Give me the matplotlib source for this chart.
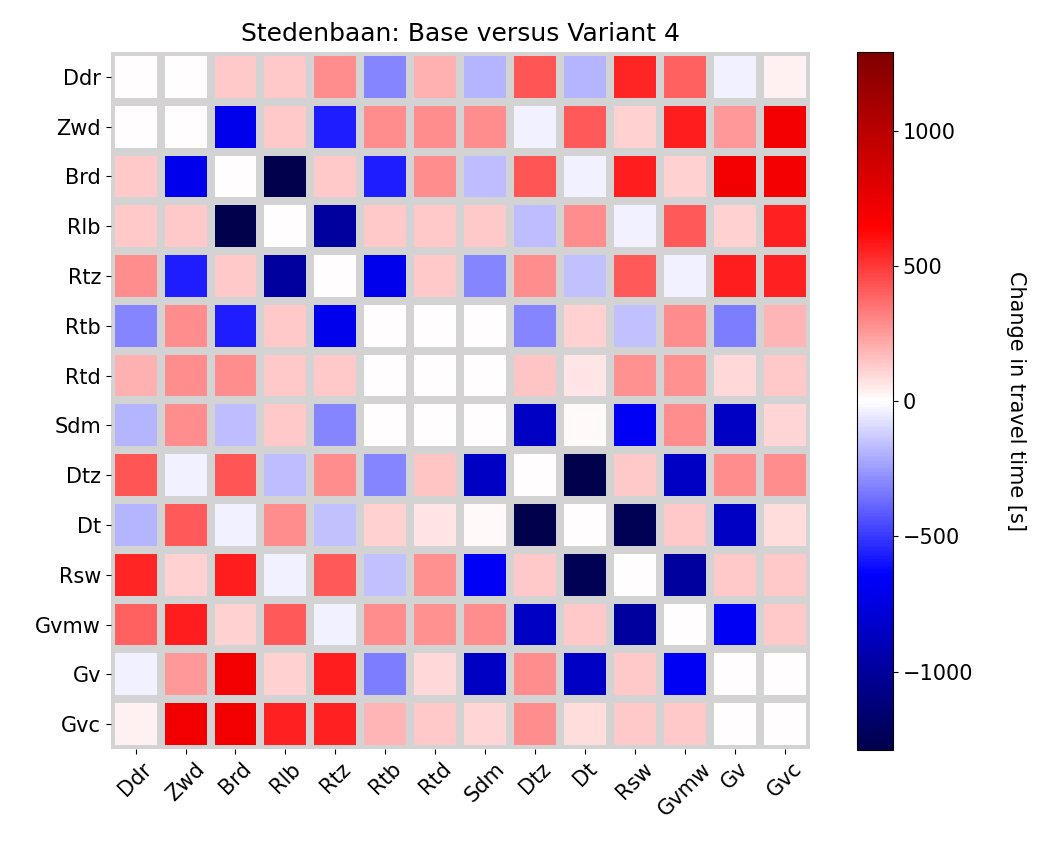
import numpy as np
import matplotlib
matplotlib.use("Agg")
import matplotlib.pyplot as plt

stations = ["Ddr", "Zwd", "Brd", "Rlb", "Rtz", "Rtb", "Rtd",
            "Sdm", "Dtz", "Dt", "Rsw", "Gvmw", "Gv", "Gvc"]

# change in travel time [s], Base versus Variant 4
delta = np.array([
    [5, 5, 140, 140, 283, -303, 200, -190, 433, -190, 548, 395, -31, 31],
    [5, 5, -706, 140, -569, 283, 283, 290, -31, 420, 115, 570, 257, 715],
    [140, -706, 5, -1350, 140, -569, 283, -166, 425, -31, 570, 115, 715, 715],
    [140, 140, -1350, 5, -994, 140, 140, 140, -166, 283, -31, 420, 115, 558],
    [283, -569, 140, -994, 5, -706, 140, -303, 283, -160, 420, -31, 570, 558],
    [-303, 283, -569, 140, -706, 3, 3, 3, -303, 115, -160, 283, -325, 190],
    [200, 283, 283, 140, 140, 3, 3, 3, 150, 65, 273, 273, 100, 140],
    [-190, 290, -166, 140, -303, 3, 3, 3, -853, 20, -680, 283, -853, 110],
    [433, -31, 425, -166, 283, -303, 150, -853, 3, -1320, 140, -853, 283, 283],
    [-190, 420, -31, 283, -160, 115, 65, 20, -1320, 3, -1250, 140, -853, 85],
    [548, 115, 570, -31, 420, -160, 273, -680, 140, -1250, 3, -994, 140, 140],
    [395, 570, 115, 420, -31, 283, 273, 283, -853, 140, -994, 3, -680, 140],
    [-31, 257, 715, 115, 570, -325, 100, -853, 283, -853, 140, -680, 3, 3],
    [31, 715, 715, 558, 558, 190, 140, 110, 283, 85, 140, 140, 3, 3],
])

vmax = 1290

fig = plt.figure(figsize=(10.41, 8.42), dpi=100)
ax = fig.add_axes([0.1063, 0.1105, 0.6715, 0.8277])
cax = fig.add_axes([0.8232, 0.1093, 0.0346, 0.8286])

mesh = ax.pcolormesh(delta, cmap="seismic", vmin=-vmax, vmax=vmax,
                     edgecolors="lightgray", linewidth=4.4)
ax.set_xlim(0, len(stations))
ax.set_ylim(len(stations), 0)
for s in ax.spines.values():
    s.set_visible(False)

ax.set_xticks(np.arange(len(stations)) + 0.5)
ax.set_yticks(np.arange(len(stations)) + 0.5)
ax.set_xticklabels(stations, rotation=45, fontsize=15)
ax.set_yticklabels(stations, fontsize=15)
ax.set_title("Stedenbaan: Base versus Variant 4", fontsize=18, pad=8)

cb = fig.colorbar(mesh, cax=cax)
cb.ax.tick_params(labelsize=15)
cb.set_label("Change in travel time [s]", rotation=270, fontsize=15, labelpad=38)

fig.savefig("out.png", dpi=100)
